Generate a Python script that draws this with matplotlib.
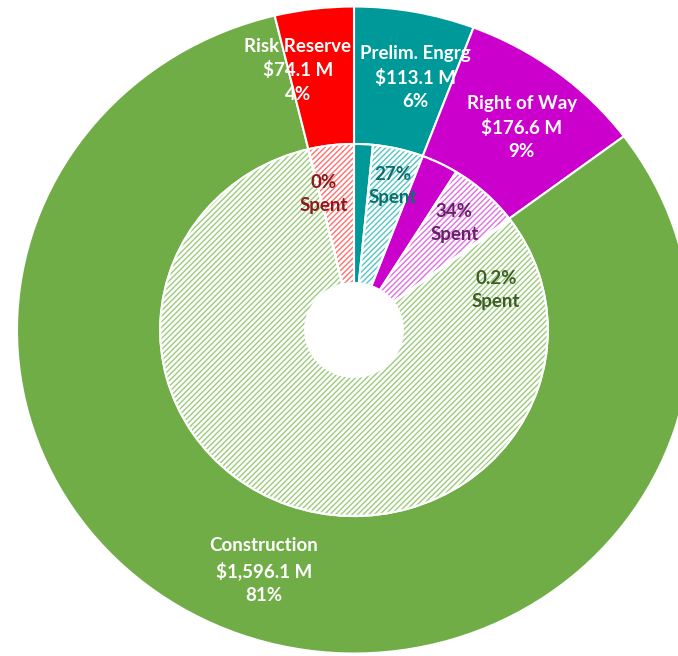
import numpy as np
import matplotlib.pyplot as plt

# budget by phase ($ M) and share already spent
categories = ['Prelim. Engrg', 'Right of Way', 'Construction', 'Risk Reserve']
budget = [113.1, 176.6, 1596.1, 74.1]
pct_label = ['6%', '9%', '81%', '4%']
spent_frac = [0.27, 0.34, 0.002, 0.0]
spent_label = ['27%', '34%', '0.2%', '0%']

colors = ['#009999', '#CC00CC', '#70AD47', '#FF0000']
hatch_colors = ['#55C4C4', '#E070E0', '#9CCB7C', '#FF7070']
text_colors = ['#0B6E6E', '#6B1F6B', '#3D5F26', '#8B1A1A']

# label positions (angle deg, radius) - outer ring / inner ring
outer_pos = [(76.9, 0.80), (51.5, 0.80), (250.2, 0.79), (101.7, 0.82)]
inner_pos = [(75.5, 0.46), (48.0, 0.445), (16.4, 0.44), (102.0, 0.43)]

plt.rcParams['hatch.linewidth'] = 1.0

fig = plt.figure(figsize=(6.78, 6.56), dpi=100)
ax = fig.add_axes([0, 0, 1, 1])

r_mid = 0.575
r_hole = 0.145

# outer ring
ax.pie(budget, radius=1.0, colors=colors, startangle=90, counterclock=False,
       wedgeprops=dict(width=1.0 - r_mid, edgecolor='white', linewidth=1.5))

# inner ring: spent (solid) + unspent (hatched) for each category
inner_vals = []
for b, f in zip(budget, spent_frac):
    inner_vals += [b * f, b * (1 - f)]

wedges, _ = ax.pie(inner_vals, radius=r_mid, startangle=90, counterclock=False,
                   wedgeprops=dict(width=r_mid - r_hole))
for i, w in enumerate(wedges):
    k = i // 2
    if i % 2 == 0:
        w.set_facecolor(colors[k])
        w.set_edgecolor(colors[k])
        w.set_linewidth(0.5)
    else:
        w.set_facecolor('white')
        w.set_edgecolor(hatch_colors[k])
        w.set_hatch('//////')
        w.set_linewidth(0.5)

# white borders over the inner ring
ax.pie(inner_vals, radius=r_mid, startangle=90, counterclock=False,
       wedgeprops=dict(width=r_mid - r_hole, facecolor='none',
                       edgecolor='white', linewidth=1.5))

fam = ['Lato', 'DejaVu Sans']
for name, b, p, (a, r) in zip(categories, budget, pct_label, outer_pos):
    t = np.deg2rad(a)
    ax.text(r * np.cos(t), r * np.sin(t), f'{name}\n${b:,.1f} M\n{p}',
            ha='center', va='center', color='white', fontsize=13.5,
            fontweight='bold', family=fam, linespacing=1.45)

for s, c, (a, r) in zip(spent_label, text_colors, inner_pos):
    t = np.deg2rad(a)
    ax.text(r * np.cos(t), r * np.sin(t), f'{s}\nSpent',
            ha='center', va='center', color=c, fontsize=13.5,
            fontweight='bold', family=fam, linespacing=1.45)

# slightly wider than tall, clipped at the right like the original
ax.set_aspect('auto')
ax.set_xlim(-1.0504, 0.9614)
ax.set_ylim(-1.0077, 1.0201)
ax.axis('off')

fig.savefig('out.png', dpi=100)
